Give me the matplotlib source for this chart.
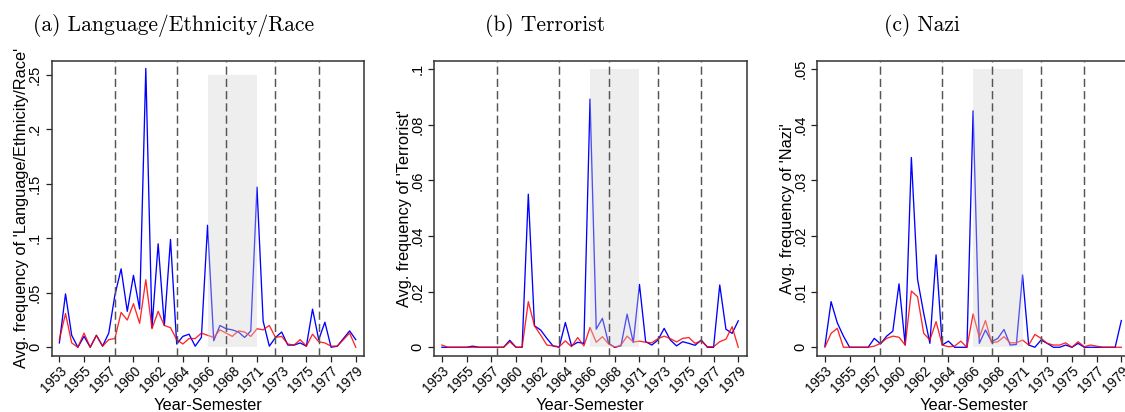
import matplotlib
matplotlib.use("Agg")
import matplotlib.pyplot as plt

# semester index on the x axis, labelled every 4th semester
year_labels = ["1953", "1955", "1957", "1960", "1962", "1964", "1966",
               "1968", "1971", "1973", "1975", "1977", "1979"]
n_sem = 49
sem_idx = list(range(n_sem))

# breaks (dashed) and the highlighted period (semester index)
break_sems = [9, 19, 27, 35, 42]
shade_from, shade_to = 24, 32

titles = ["(a) Language/Ethnicity/Race", "(b) Terrorist", "(c) Nazi"]
ylabels = ["Avg. frequency of 'Language/Ethnicity/Race'",
           "Avg. frequency of 'Terrorist'",
           "Avg. frequency of 'Nazi'"]
ytick_vals = [[0, .05, .1, .15, .2, .25],
              [0, .02, .04, .06, .08, .1],
              [0, .01, .02, .03, .04, .05]]
ytick_txt = [["0", ".05", ".1", ".15", ".2", ".25"],
             ["0", ".02", ".04", ".06", ".08", ".1"],
             ["0", ".01", ".02", ".03", ".04", ".05"]]

lang_blue = [0.004, 0.049, 0.011, 0.0, 0.010, 0.0, 0.011, 0.001, 0.013, 0.048,
             0.072, 0.033, 0.066, 0.035, 0.256, 0.018, 0.095, 0.020, 0.099, 0.003,
             0.010, 0.012, 0.001, 0.009, 0.112, 0.006, 0.020, 0.017, 0.016, 0.014,
             0.009, 0.015, 0.147, 0.024, 0.001, 0.009, 0.014, 0.002, 0.002, 0.004,
             0.001, 0.035, 0.007, 0.023, 0.0, 0.001, 0.008, 0.015, 0.007]
lang_red = [0.007, 0.031, 0.004, 0.0, 0.013, 0.0, 0.011, 0.001, 0.007, 0.008,
            0.032, 0.025, 0.040, 0.022, 0.062, 0.017, 0.033, 0.020, 0.018, 0.007,
            0.003, 0.008, 0.008, 0.013, 0.011, 0.009, 0.016, 0.013, 0.010, 0.015,
            0.014, 0.010, 0.017, 0.016, 0.020, 0.009, 0.010, 0.003, 0.002, 0.007,
            0.001, 0.012, 0.005, 0.004, 0.001, 0.001, 0.007, 0.013, 0.0]

terr_blue = [0.0, 0.0, 0.0, 0.0, 0.0, 0.0004, 0.0, 0.0, 0.0, 0.0,
             0.0, 0.0025, 0.0, 0.0, 0.055, 0.0077, 0.0062, 0.0032, 0.0005, 0.0,
             0.0089, 0.0005, 0.0018, 0.0014, 0.0892, 0.0065, 0.0104, 0.0014, 0.0, 0.0005,
             0.0119, 0.0017, 0.0226, 0.002, 0.0008, 0.0026, 0.0068, 0.0026, 0.0005, 0.002,
             0.0014, 0.0007, 0.0026, 0.0, 0.0, 0.0224, 0.0065, 0.005, 0.0095]
terr_red = [0.0008, 0.0, 0.0, 0.0, 0.0, 0.0, 0.0, 0.0, 0.0, 0.0,
            0.0, 0.002, 0.0, 0.0, 0.0164, 0.0077, 0.0044, 0.0008, 0.0005, 0.0002,
            0.0023, 0.0002, 0.0035, 0.0005, 0.0071, 0.0018, 0.0038, 0.0012, 0.0, 0.0008,
            0.004, 0.0019, 0.0022, 0.0018, 0.0016, 0.0031, 0.004, 0.0031, 0.0019, 0.0032,
            0.0035, 0.0014, 0.0023, 0.0002, 0.0002, 0.002, 0.0029, 0.0074, 0.0]

nazi_blue = [0.0002, 0.0082, 0.0044, 0.002, 0.0, 0.0, 0.0, 0.0, 0.0016, 0.0006,
             0.002, 0.0029, 0.0114, 0.0004, 0.0341, 0.0122, 0.0061, 0.0007, 0.0166, 0.0004,
             0.0011, 0.0, 0.0, 0.0, 0.0425, 0.0007, 0.0031, 0.001, 0.0016, 0.0032,
             0.0004, 0.0005, 0.013, 0.0004, 0.0, 0.0013, 0.0007, 0.0, 0.0, 0.0004,
             0.0, 0.0007, 0.0, 0.0, 0.0, 0.0, 0.0, 0.0, 0.0048]
nazi_red = [0.0, 0.0025, 0.0034, 0.0, 0.0, 0.0, 0.0, 0.0, 0.0002, 0.0007,
            0.0016, 0.002, 0.0018, 0.0004, 0.0101, 0.0091, 0.0025, 0.0013, 0.0046, 0.0004,
            0.0001, 0.0002, 0.0011, 0.0, 0.006, 0.0018, 0.0048, 0.0008, 0.001, 0.0019,
            0.0008, 0.0008, 0.0013, 0.0004, 0.0023, 0.0016, 0.0007, 0.0004, 0.0004, 0.0008,
            0.0, 0.001, 0.0001, 0.0004, 0.0002, 0.0, 0.0, 0.0, 0.0]

blue_series = [lang_blue, terr_blue, nazi_blue]
red_series = [lang_red, terr_red, nazi_red]
ytops = [0.2631, 0.103, 0.0515]

plt.rcParams["font.family"] = ["Liberation Sans", "DejaVu Sans"]

fig = plt.figure(figsize=(11.25, 4.12), dpi=100)
lefts = [0.0460, 0.3860, 0.7265]
title_x = [174 / 1125, 545 / 1125, 922 / 1125]

for k in range(3):
    ax = fig.add_axes([lefts[k], 0.1359, 0.2776, 0.7168])
    top = ytick_vals[k][-1]

    ax.plot(sem_idx, blue_series[k], color="#0000ff", lw=0.95, zorder=2)
    ax.plot(sem_idx, red_series[k], color="#ff0000", lw=0.95, alpha=0.85, zorder=3)
    ax.fill_between([shade_from, shade_to], 0, top, color="#d4d4d4",
                    alpha=0.38, lw=0, zorder=4)
    for b in break_sems:
        ax.axvline(b, color="#555555", lw=1.05, dashes=(5.6, 2.8), zorder=5)

    ax.set_xlim(-1.23, 49.34)
    ax.set_ylim(-ytops[k] * 0.0305, ytops[k])

    ax.set_xticks(range(0, n_sem, 4))
    ax.set_xticklabels(year_labels, rotation=45, ha="right", va="top",
                       rotation_mode="anchor", fontsize=9.8)
    ax.set_yticks(ytick_vals[k])
    ax.set_yticklabels(ytick_txt[k], rotation=90, va="center", fontsize=10.5)
    ax.tick_params(axis="both", direction="out", length=4.5, width=0.9,
                   color="#222222", pad=2.5)
    ax.tick_params(axis="x", pad=1.2)

    for s in ax.spines.values():
        s.set_color("#333333")
        s.set_linewidth(1.1)

    ax.set_xlabel("Year-Semester", fontsize=11.8)
    ax.xaxis.set_label_coords(0.5, -0.142)
    ax.set_ylabel(ylabels[k], fontsize=11.8)
    ax.yaxis.set_label_coords(-0.072, 0.5)

    fig.text(title_x[k], 0.937, titles[k], family="cmr10", fontsize=15.5,
             ha="center", va="center")

fig.savefig("out.png", dpi=100)
